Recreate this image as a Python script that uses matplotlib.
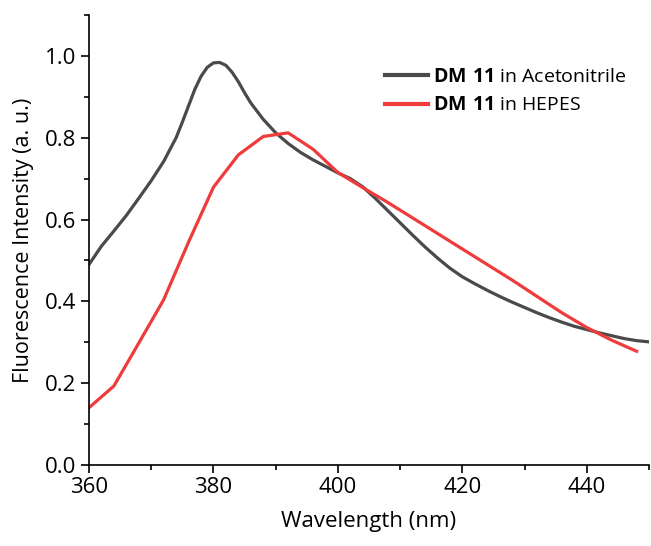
import matplotlib
matplotlib.use('Agg')
import matplotlib.pyplot as plt
from matplotlib.ticker import MultipleLocator

plt.rcParams['font.family'] = ['Open Sans', 'DejaVu Sans']
plt.rcParams['mathtext.fontset'] = 'custom'
plt.rcParams['mathtext.rm'] = 'Open Sans'
plt.rcParams['mathtext.bf'] = 'Open Sans:bold'

# DM 11 in acetonitrile (smooth spectrum)
acn_wl = [360, 362, 364, 366, 368, 370, 372, 374, 375, 376, 377, 378, 379, 380,
          381, 382, 383, 384, 385, 386, 388, 390, 392, 394, 396, 398, 400, 402,
          404, 406, 408, 410, 412, 414, 416, 418, 420, 422, 424, 426, 428, 430,
          432, 434, 436, 438, 440, 442, 444, 446, 448, 450]
acn_int = [0.49, 0.535, 0.572, 0.61, 0.652, 0.695, 0.742, 0.80, 0.838, 0.878,
           0.918, 0.95, 0.972, 0.983, 0.984, 0.977, 0.96, 0.937, 0.91, 0.885,
           0.845, 0.812, 0.786, 0.764, 0.746, 0.73, 0.714, 0.70, 0.68, 0.652,
           0.622, 0.592, 0.562, 0.533, 0.506, 0.481, 0.46, 0.443, 0.427, 0.412,
           0.398, 0.385, 0.372, 0.36, 0.349, 0.339, 0.331, 0.323, 0.316, 0.309,
           0.304, 0.301]

# DM 11 in HEPES (4 nm steps)
hepes_wl = [360, 364, 368, 372, 376, 380, 384, 388, 392, 396, 400, 404, 408, 412,
            416, 420, 424, 428, 432, 436, 440, 444, 448]
hepes_int = [0.14, 0.193, 0.298, 0.404, 0.545, 0.679, 0.758, 0.803, 0.812, 0.772,
             0.715, 0.678, 0.642, 0.604, 0.566, 0.528, 0.49, 0.452, 0.412, 0.372,
             0.336, 0.305, 0.278]

fig = plt.figure(figsize=(6.51, 5.46), dpi=100)
ax = fig.add_axes([0.1367, 0.1484, 0.8603, 0.8241])

ax.plot(acn_wl, acn_int, color='#4a4a4a', lw=2.3,
        label=r'$\mathbf{DM\ 11}$ in Acetonitrile')
ax.plot(hepes_wl, hepes_int, color='#ef3b3b', lw=2.3,
        label=r'$\mathbf{DM\ 11}$ in HEPES')

ax.set_xlim(360, 450)
ax.set_ylim(0, 1.1)
ax.xaxis.set_major_locator(MultipleLocator(20))
ax.xaxis.set_minor_locator(MultipleLocator(10))
ax.yaxis.set_major_locator(MultipleLocator(0.2))
ax.yaxis.set_minor_locator(MultipleLocator(0.1))
ax.xaxis.set_major_formatter(matplotlib.ticker.FormatStrFormatter('%d'))
ax.yaxis.set_major_formatter(matplotlib.ticker.FormatStrFormatter('%.1f'))

for side in ('top', 'right'):
    ax.spines[side].set_visible(False)
for side in ('left', 'bottom'):
    ax.spines[side].set_linewidth(1.2)

ax.tick_params(which='major', direction='out', length=6, width=1.2,
               labelsize=16, pad=3)
ax.tick_params(which='minor', direction='out', length=3.5, width=1.2)

ax.set_xlabel('Wavelength (nm)', fontsize=16, labelpad=9)
ax.set_ylabel('Fluorescence Intensity (a. u.)', fontsize=15.5, labelpad=8)

leg = ax.legend(loc='upper left', bbox_to_anchor=(0.515, 0.9), frameon=False,
                fontsize=14, handlelength=2.2, handletextpad=0.25,
                labelspacing=0.55, borderaxespad=0)
for line in leg.get_lines():
    line.set_linewidth(3)

fig.savefig('out.png', dpi=100)
